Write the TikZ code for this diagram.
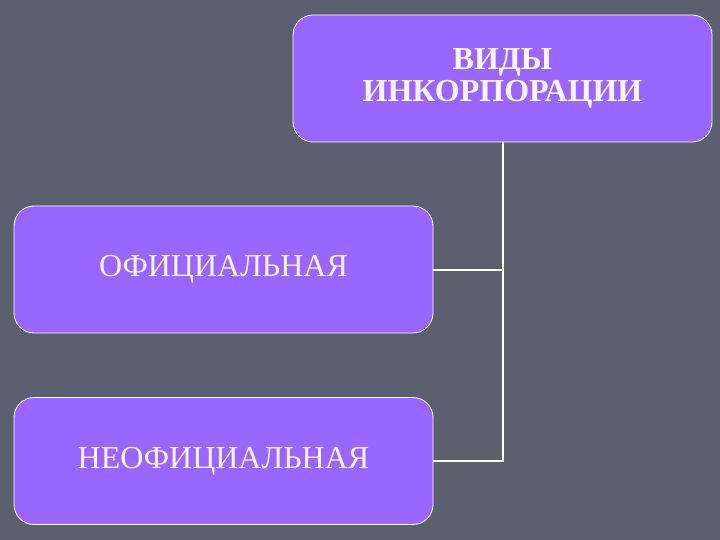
\documentclass[tikz,border=0pt]{standalone}
\usepackage{fontspec}
\setmainfont{Liberation Serif}
\usepackage{tikz}
\usetikzlibrary{positioning}
\definecolor{slidegray}{HTML}{5C5F6E}
\definecolor{boxpurple}{HTML}{9966FF}
\definecolor{textwhite}{HTML}{FFF2F4}

\begin{document}
\begin{tikzpicture}[x=1pt,y=-1pt,
  kind/.style={draw=white, line width=0.8pt, fill=boxpurple, rounded corners=20pt,
    minimum width=419pt, minimum height=127pt, inner sep=0pt,
    text=textwhite, align=center, font=\fontsize{32}{32}\selectfont},
  link/.style={draw=white, line width=2pt}]
\fill[slidegray] (0,0) rectangle (720,540);
\useasboundingbox (0,0) rectangle (720,540);
\node[kind, font=\fontsize{32}{32}\selectfont\bfseries] (vidy) at (502.5,78.5) {ВИДЫ\\ИНКОРПОРАЦИИ};
\node[kind] (ofic) at (223.5,269.5) {ОФИЦИАЛЬНАЯ};
\node[kind] (neof) at (223.5,461) {НЕОФИЦИАЛЬНАЯ};
\draw[link] (vidy.south) |- (neof.east);
\draw[link] (ofic.east) -- (ofic.east -| vidy.south);
\end{tikzpicture}
\end{document}
